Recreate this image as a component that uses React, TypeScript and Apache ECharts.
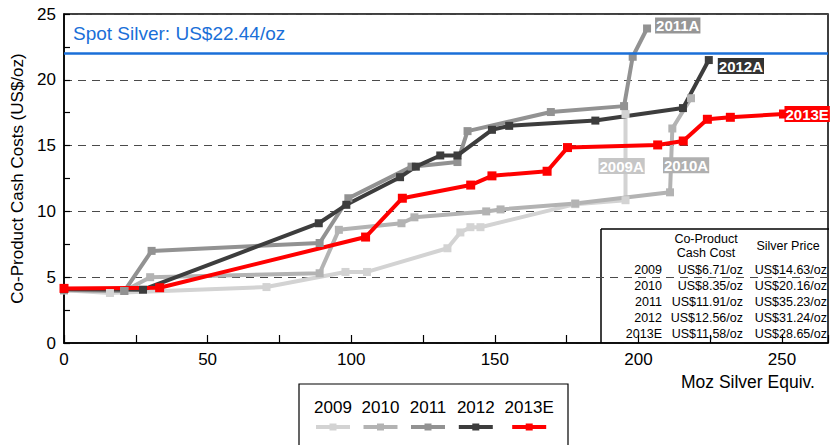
import React, { useEffect, useRef } from "react";
import * as echarts from "echarts";

const FONT = "Liberation Sans";

const SERIES_NAMES = ["2009", "2010", "2011", "2012", "2013E"];
const END_LABELS = ["2009A", "2010A", "2011A", "2012A", "2013E"];
const COLORS = ["#d3d3d3", "#b3b3b3", "#929292", "#3d3d3d", "#ff0000"];
const LABEL_BG = ["#c6c6c6", "#b0b0b0", "#969696", "#333333", "#ff0000"];

// [Moz silver equiv (cumulative), co-product cash cost US$/oz]
const S2009 = [
  [0, 4.0], [16, 3.8], [70.5, 4.25], [98, 5.4], [105.5, 5.4], [133.5, 7.2],
  [138, 8.4], [141.5, 8.8], [145, 8.8], [178, 10.55], [195.5, 10.85], [195.5, 17.4],
];
const S2010 = [
  [0, 4.0], [21, 3.95], [30, 5.0], [89, 5.3], [95.7, 8.6], [117.5, 9.1],
  [122, 9.55], [147, 10.0], [152, 10.15], [178, 10.6], [211, 11.45], [211.8, 16.3], [218.3, 18.6],
];
const S2011 = [
  [0, 4.05], [21, 3.95], [30.5, 7.0], [89, 7.6], [99, 11.0], [121, 13.4],
  [137, 13.75], [140.5, 16.1], [169.5, 17.55], [195, 18.0], [198, 21.75], [203, 23.9],
];
const S2012 = [
  [0, 4.1], [27.5, 4.05], [88.7, 9.1], [98.3, 10.5], [117, 12.6], [122.5, 13.4],
  [131, 14.25], [137, 14.25], [149, 16.2], [155, 16.5], [185, 16.9], [215.5, 17.85], [224.5, 21.5],
];
const S2013E = [
  [0, 4.15], [33.3, 4.2], [105, 8.05], [117.8, 11.0], [141.6, 12.0], [149, 12.7],
  [168.2, 13.05], [175.3, 14.85], [206.7, 15.05], [215.6, 15.35], [224, 17.0], [232, 17.15], [250.5, 17.4],
];
const SERIES_DATA = [S2009, S2010, S2011, S2012, S2013E];

const SPOT_LEVEL = 22.05;
const SPOT_LABEL = "Spot Silver: US$22.44/oz";

const X_TICKS = [0, 50, 100, 150, 200, 250];
const Y_TICKS = [0, 5, 10, 15, 20, 25];

const TABLE_HEAD_COST = ["Co-Product", "Cash Cost"];
const TABLE_HEAD_PRICE = "Silver Price";
const TABLE_YEARS = ["2009", "2010", "2011", "2012", "2013E"];
const TABLE_COST = ["US$6.71/oz", "US$8.35/oz", "US$11.91/oz", "US$12.56/oz", "US$11,58/oz"];
const TABLE_PRICE = ["US$14.63/oz", "US$20.16/oz", "US$35.23/oz", "US$31.24/oz", "US$28.65/oz"];

const LABEL_OFFSETS = [[-27, 52], [-28, 67], [0, -3], [0, 6], [0, 0]];
const LABEL_DIST = [0, 0, 8, 9, 1];
const LEGEND_CX = [333, 380.5, 428, 475.8, 529.2];

export default function App() {
  const ref = useRef<HTMLDivElement>(null);
  useEffect(() => {
    document.body.style.margin = "0";
    const chart = echarts.init(ref.current!, null, { renderer: "svg" });

    const graphics: any[] = [];
    graphics.push({
      type: "text", left: 73, top: 24,
      style: { text: SPOT_LABEL, fill: "#1a6fd8", font: `19px ${FONT}` },
    });
    graphics.push({
      type: "text", left: 681, top: 373,
      style: { text: "Moz Silver Equiv.", fill: "#000", font: `17.5px ${FONT}` },
    });
    // table
    graphics.push({ type: "line", shape: { x1: 601, y1: 229, x2: 829, y2: 229 }, style: { stroke: "#000", lineWidth: 1.5 } });
    graphics.push({ type: "line", shape: { x1: 601, y1: 229, x2: 601, y2: 343 }, style: { stroke: "#000", lineWidth: 1.5 } });
    TABLE_HEAD_COST.forEach((t, i) => {
      graphics.push({ type: "text", x: 706, y: 239 + i * 14, style: { text: t, fill: "#000", font: `12.5px ${FONT}`, textAlign: "center", textVerticalAlign: "middle" } });
    });
    graphics.push({ type: "text", x: 788, y: 246, style: { text: TABLE_HEAD_PRICE, fill: "#000", font: `12.5px ${FONT}`, textAlign: "center", textVerticalAlign: "middle" } });
    TABLE_YEARS.forEach((yr, i) => {
      const y = 270 + i * 16;
      graphics.push({ type: "text", x: 662, y, style: { text: yr, fill: "#000", font: `12.5px ${FONT}`, textAlign: "right", textVerticalAlign: "middle" } });
      graphics.push({ type: "text", x: 743, y, style: { text: TABLE_COST[i], fill: "#000", font: `12.5px ${FONT}`, textAlign: "right", textVerticalAlign: "middle" } });
      graphics.push({ type: "text", x: 827, y, style: { text: TABLE_PRICE[i], fill: "#000", font: `12.5px ${FONT}`, textAlign: "right", textVerticalAlign: "middle" } });
    });
    // legend
    graphics.push({ type: "rect", shape: { x: 299, y: 384, width: 269, height: 80 }, style: { fill: "none", stroke: "#000", lineWidth: 1.2 } });
    SERIES_NAMES.forEach((n, i) => {
      const cx = LEGEND_CX[i];
      graphics.push({ type: "text", x: cx, y: 407, style: { text: n, fill: "#000", font: `17px ${FONT}`, textAlign: "center", textVerticalAlign: "middle" } });
      graphics.push({ type: "line", shape: { x1: cx - 17, y1: 427, x2: cx + 17, y2: 427 }, style: { stroke: COLORS[i], lineWidth: 4 } });
      graphics.push({ type: "rect", shape: { x: cx - 3.5, y: 423.5, width: 7, height: 7 }, style: { fill: COLORS[i] } });
    });

    const option: any = {
      animation: false,
      textStyle: { fontFamily: FONT },
      grid: { left: 64, top: 14, right: 2, bottom: 102, show: true, borderColor: "#000", borderWidth: 1.5, backgroundColor: "transparent" },
      xAxis: {
        type: "value", min: 0, max: 266, interval: 50,
        axisLine: { lineStyle: { color: "#000", width: 1.5 } },
        axisTick: { inside: true, length: 8, lineStyle: { color: "#000", width: 1.2 } },
        minorTick: { show: true, splitNumber: 2, length: 8, lineStyle: { color: "#000", width: 1.2 } },
        axisLabel: { color: "#000", fontSize: 17, fontFamily: FONT, margin: 8, formatter: (v: number) => (X_TICKS.includes(v) ? String(v) : "") },
        splitLine: { show: false },
      },
      yAxis: {
        type: "value", min: 0, max: 25, interval: 5,
        name: "Co-Product Cash Costs (US$/oz)", nameLocation: "middle", nameGap: 34,
        nameTextStyle: { color: "#000", fontSize: 17, fontFamily: FONT },
        axisLine: { lineStyle: { color: "#000", width: 1.5 } },
        axisTick: { inside: true, length: 6, lineStyle: { color: "#000", width: 1.2 } },
        minorTick: { show: true, splitNumber: 2, length: 6, lineStyle: { color: "#000", width: 1.2 } },
        axisLabel: { color: "#000", fontSize: 17, fontFamily: FONT, margin: 8, formatter: (v: number) => (Y_TICKS.includes(v) ? String(v) : "") },
        splitLine: { show: true, lineStyle: { color: "#4a4a4a", width: 1.2, type: [8, 6] } },
      },
      series: SERIES_DATA.map((d, i) => ({
        name: SERIES_NAMES[i],
        type: "line",
        data: d,
        symbol: "rect",
        symbolSize: i === 4 ? 9 : 8,
        lineStyle: { color: COLORS[i], width: 4 },
        itemStyle: { color: COLORS[i] },
        emphasis: { disabled: true },
        endLabel: {
          show: true, formatter: END_LABELS[i], color: "#fff", fontWeight: "bold", fontSize: 15, fontFamily: FONT,
          backgroundColor: LABEL_BG[i], padding: [1, 1, 0, 1], distance: LABEL_DIST[i], offset: LABEL_OFFSETS[i],
        },
        markLine: i === 0 ? {
          silent: true, symbol: ["none", "none"], label: { show: false },
          lineStyle: { color: "#1a6fd8", width: 2.5, type: "solid" },
          data: [{ yAxis: SPOT_LEVEL }],
        } : undefined,
      })),
      graphic: graphics,
    };
    chart.setOption(option);
    return () => chart.dispose();
  }, []);
  return <div ref={ref} style={{ width: 831, height: 445 }} />;
}
